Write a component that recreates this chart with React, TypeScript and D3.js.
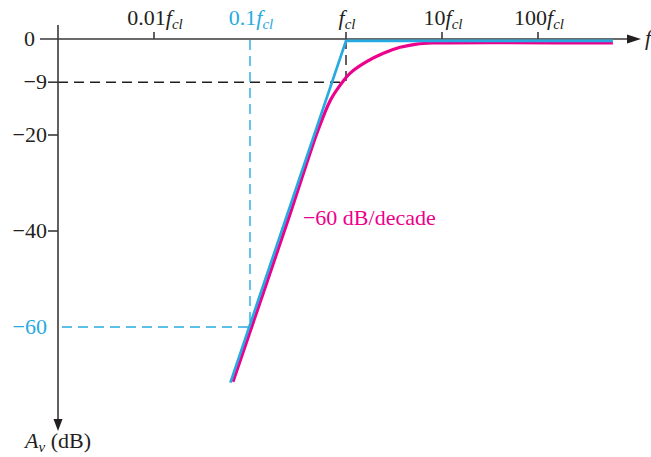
import React from "react";
import * as d3 from "d3";

// frequencies are multiples of f_cl, gains in dB
const freqTicks = [0.01, 0.1, 1, 10, 100];
const freqTickPrefixes = ["0.01", "0.1", "", "10", "100"];
const gainTicks = [-9, -20, -40];
const gainTickLabels = ["−9", "−20", "−40"];
const zeroLabel = "0";
const markGain = -60;
const markGainLabel = "−60";
const markFreq = 0.1;
const cornerFreq = 1;
const cornerGain = -9;

const asymptoteFreq = [0.0625, 1, 603];
const asymptoteGain = [-71.2, 0, 0];

const responseFreq = [0.0665, 0.261, 0.511, 0.69, 0.87, 1.1, 1.64, 2.45, 3.66, 5.44, 8.11, 603];
const responseGain = [-71.4, -36.5, -19.0, -12.7, -9.6, -7.15, -4.73, -2.98, -1.73, -1.05, -0.83, -0.83];

const slopeLabel = "−60 dB/decade";
const slopeLabelFreq = 0.356;
const slopeLabelGain = -38.8;

const BLACK = "#231f20";
const AXIS = "#3a3a3a";
const BLUE = "#27aae1";
const MAGENTA = "#ec008c";
const FONT = "'Liberation Serif', 'DejaVu Serif', serif";

export default function App() {
  const x = d3.scaleLog().domain([0.001, 1000]).range([58, 634]);
  const y = d3.scaleLinear().domain([0, -80]).range([39, 423]);
  const x0 = x(0.001);
  const y0 = y(0);

  const line = d3
    .line<[number, number]>()
    .x((d) => x(d[0]))
    .y((d) => y(d[1]));
  const curve = d3
    .line<[number, number]>()
    .x((d) => x(d[0]))
    .y((d) => y(d[1]))
    .curve(d3.curveCatmullRom.alpha(0.5));

  const asym = asymptoteFreq.map((f, i) => [f, asymptoteGain[i]] as [number, number]);
  const resp = responseFreq.map((f, i) => [f, responseGain[i]] as [number, number]);

  const fs = 22;
  const sub = 15;

  return (
    <svg
      width={651}
      height={457}
      style={{ position: "absolute", left: 0, top: 0, background: "#fff" }}
      fontFamily={FONT}
    >
      <rect width={651} height={457} fill="#fff" />
      {/* dashed guides */}
      <g strokeWidth={1.4} strokeDasharray="10 6" fill="none">
        <line x1={x0} x2={x(cornerFreq)} y1={y(cornerGain)} y2={y(cornerGain)} stroke={BLACK} />
        <line x1={x(cornerFreq)} x2={x(cornerFreq)} y1={y0} y2={y(cornerGain)} stroke={BLACK} />
        <line x1={x0 + 4} x2={x(markFreq)} y1={y(markGain)} y2={y(markGain)} stroke={BLUE} />
        <line x1={x(markFreq)} x2={x(markFreq)} y1={y0 + 1} y2={y(markGain)} stroke={BLUE} />
      </g>

      {/* axes */}
      <line x1={40} x2={630} y1={y0} y2={y0} stroke={AXIS} strokeWidth={1.6} />
      <polygon points={`641,${y0} 627,${y0 - 4.5} 627,${y0 + 4.5}`} fill={BLACK} />
      <line x1={x0} x2={x0} y1={25} y2={422} stroke={AXIS} strokeWidth={1.6} />
      <polygon points={`${x0},431 ${x0 - 4.5},419 ${x0 + 4.5},419`} fill={BLACK} />

      {/* top ticks */}
      {freqTicks.map((f) =>
        f === markFreq ? null : (
          <line key={f} x1={x(f)} x2={x(f)} y1={y0 - 7} y2={y0} stroke={AXIS} strokeWidth={1.6} />
        )
      )}
      {freqTicks.map((f, i) => (
        <text
          key={"t" + f}
          x={x(f) + 1}
          y={25}
          textAnchor="middle"
          fontSize={fs}
          fill={f === markFreq ? BLUE : BLACK}
        >
          {freqTickPrefixes[i]}
          <tspan fontStyle="italic">f</tspan>
          <tspan fontStyle="italic" fontSize={sub} dy={4}>
            cl
          </tspan>
        </text>
      ))}

      {/* left ticks */}
      {gainTicks.map((g, i) => (
        <g key={g}>
          <line x1={48} x2={x0} y1={y(g)} y2={y(g)} stroke={AXIS} strokeWidth={1.6} />
          <text x={47} y={y(g) + 7} textAnchor="end" fontSize={fs} fill={BLACK}>
            {gainTickLabels[i]}
          </text>
        </g>
      ))}
      <text x={35} y={y0 + 7} textAnchor="end" fontSize={fs} fill={BLACK}>
        {zeroLabel}
      </text>
      <text x={47} y={y(markGain) + 7} textAnchor="end" fontSize={fs} fill={BLUE}>
        {markGainLabel}
      </text>

      {/* curves */}
      <path d={curve(resp) || ""} fill="none" stroke={MAGENTA} strokeWidth={3.2} />
      <path
        d={line(asym) || ""}
        fill="none"
        stroke={BLUE}
        strokeWidth={2.7}
        transform="translate(0,1.8)"
      />

      <text x={x(slopeLabelFreq)} y={y(slopeLabelGain)} fontSize={fs} fill={MAGENTA}>
        {slopeLabel}
      </text>

      {/* axis titles */}
      <text x={645} y={45} fontSize={fs} fontStyle="italic" fill={BLACK}>
        f
      </text>
      <text x={25} y={448} fontSize={fs} fill={BLACK}>
        <tspan fontStyle="italic">A</tspan>
        <tspan fontStyle="italic" fontSize={sub} dy={4}>
          v
        </tspan>
        <tspan dy={-4}> (dB)</tspan>
      </text>
    </svg>
  );
}
